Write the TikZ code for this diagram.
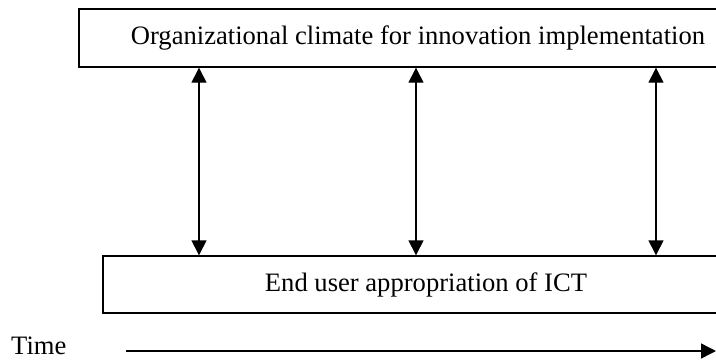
\documentclass[tikz,border=0pt]{standalone}
\usepackage{fontspec}
\setmainfont{Liberation Serif}
\usetikzlibrary{arrows.meta}
\begin{document}
\begin{tikzpicture}[x=1pt,y=-1pt]
		\tikzset{block/.style = {shape=rectangle,draw,line width=1.4pt,inner sep=0pt,font=\fontsize{26.6}{31}\selectfont}}
		\tikzset{link/.style = {{Triangle[length=15pt,width=15pt]}-{Triangle[length=15pt,width=15pt]},line width=1.4pt}}
		\useasboundingbox (0,0) rectangle (716,360);
		\clip (0,0) rectangle (716,360);
		\node[block,minimum width=678pt,minimum height=58pt] (climate) at (418,38) {Organizational climate for innovation implementation};
		\node[block,minimum width=646pt,minimum height=57pt] (approp) at (426,284.5) {End user appropriation of ICT};
		\coordinate (p1) at (199,0);
		\coordinate (p2) at (416,0);
		\coordinate (p3) at (656,0);
		\draw[link] (climate.south -| p1) -- (approp.north -| p1);
		\draw[link] (climate.south -| p2) -- (approp.north -| p2);
		\draw[link] (climate.south -| p3) -- (approp.north -| p3);
		\node[anchor=base west,inner sep=0pt,font=\fontsize{26.6}{31}\selectfont] (time) at (11,354) {Time};
		\coordinate (tstart) at (126,351);
		\coordinate (tend) at (716,351);
		\draw[-{Triangle[length=15pt,width=15pt]},line width=1.4pt] (tstart) -- (tend);
	\end{tikzpicture}
\end{document}
